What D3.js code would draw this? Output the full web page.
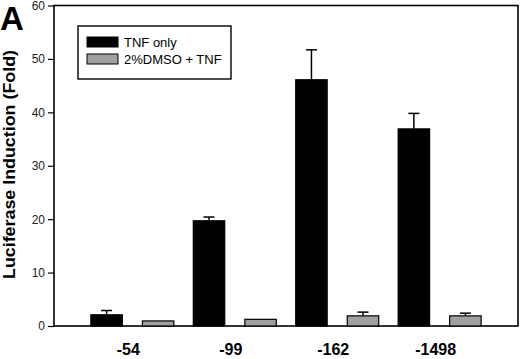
<!DOCTYPE html>
<html>
<head>
<meta charset="utf-8">
<script src="https://cdn.jsdelivr.net/npm/d3@7"></script>
<style>
  body { margin: 0; background: #fff; }
  svg { display: block; font-family: "Liberation Sans", Arial, sans-serif; }
</style>
</head>
<body>
<svg width="520" height="359"></svg>
<script>
var promoters = [ "-54", "-99", "-162", "-1498" ];
var seriesNames = [ "TNF only", "2%DMSO + TNF" ];
var seriesColors = [ "#000000", "#a0a0a0" ];
var tnfValues = [ 2.1, 19.7, 46.1, 36.9 ];
var tnfErrors = [ 0.8, 0.7, 5.6, 2.9 ];
var dmsoValues = [ 0.95, 1.25, 1.9, 1.9 ];
var dmsoErrors = [ 0, 0, 0.7, 0.5 ];
var yTicks = [ 0, 10, 20, 30, 40, 50, 60 ];

var svg = d3.select( "svg" );

var plotLeft = 54, plotRight = 518, plotTop = 5.5, plotBottom = 326;

var x0 = d3.scaleBand()
  .domain( promoters )
  .range( [ plotLeft, plotRight ] )
  .paddingInner( 0.19 )
  .paddingOuter( 0.36 );

var x1 = d3.scaleBand()
  .domain( seriesNames )
  .range( [ 0, x0.bandwidth() ] )
  .paddingInner( 0.39 );

var y = d3.scaleLinear()
  .domain( [ 0, 60 ] )
  .range( [ plotBottom, plotTop ] );

var rows = [];
promoters.forEach( ( p, i ) => {
  rows.push( { promoter: p, series: seriesNames[ 0 ], value: tnfValues[ i ], err: tnfErrors[ i ], color: seriesColors[ 0 ] } );
  rows.push( { promoter: p, series: seriesNames[ 1 ], value: dmsoValues[ i ], err: dmsoErrors[ i ], color: seriesColors[ 1 ] } );
} );

// frame
svg.append( "rect" )
  .attr( "x", plotLeft )
  .attr( "y", plotTop )
  .attr( "width", plotRight - plotLeft )
  .attr( "height", plotBottom - plotTop )
  .attr( "fill", "none" )
  .attr( "stroke", "#000" )
  .attr( "stroke-width", 1.6 );

// y axis
var yAxis = d3.axisLeft( y ).tickValues( yTicks ).tickSize( 6 ).tickPadding( 3 );
var gy = svg.append( "g" )
  .attr( "transform", "translate(" + plotLeft + ",0)" )
  .call( yAxis );
gy.select( ".domain" ).remove();
gy.selectAll( "line" ).attr( "stroke-width", 1.2 );
gy.selectAll( "text" )
  .style( "font-size", "12px" )
  .attr( "fill", "#222" );

// error bars
var errs = svg.selectAll( "g.err" )
  .data( rows.filter( d => d.err > 0 ) )
  .enter().append( "g" )
    .attr( "class", "err" );

errs.append( "line" )
  .attr( "x1", d => x0( d.promoter ) + x1( d.series ) + x1.bandwidth() / 2 )
  .attr( "x2", d => x0( d.promoter ) + x1( d.series ) + x1.bandwidth() / 2 )
  .attr( "y1", d => y( d.value ) )
  .attr( "y2", d => y( d.value + d.err ) )
  .attr( "stroke", "#000" )
  .attr( "stroke-width", 1.5 );

errs.append( "line" )
  .attr( "x1", d => x0( d.promoter ) + x1( d.series ) + x1.bandwidth() / 2 - 5.5 )
  .attr( "x2", d => x0( d.promoter ) + x1( d.series ) + x1.bandwidth() / 2 + 5.5 )
  .attr( "y1", d => y( d.value + d.err ) )
  .attr( "y2", d => y( d.value + d.err ) )
  .attr( "stroke", "#000" )
  .attr( "stroke-width", 1.5 );

// bars
svg.selectAll( "rect.bar" )
  .data( rows )
  .enter().append( "rect" )
    .attr( "class", "bar" )
    .attr( "x", d => x0( d.promoter ) + x1( d.series ) )
    .attr( "y", d => y( d.value ) )
    .attr( "width", x1.bandwidth() )
    .attr( "height", d => y( 0 ) - y( d.value ) )
    .attr( "fill", d => d.color )
    .attr( "stroke", "#000" )
    .attr( "stroke-width", 1.2 );

// x labels
svg.selectAll( "text.xlab" )
  .data( promoters )
  .enter().append( "text" )
    .attr( "class", "xlab" )
    .attr( "x", d => x0( d ) + x0.bandwidth() / 2 - 4 )
    .attr( "y", 355 )
    .attr( "text-anchor", "middle" )
    .style( "font-size", "16px" )
    .style( "font-weight", "bold" )
    .text( d => d );

// y title (stretched along its length like the scanned figure)
svg.append( "text" )
  .attr( "transform", "translate(14.5,164.5) rotate(-90)" )
  .attr( "text-anchor", "middle" )
  .attr( "textLength", 229 )
  .attr( "lengthAdjust", "spacingAndGlyphs" )
  .style( "font-size", "16px" )
  .style( "font-weight", "bold" )
  .text( "Luciferase Induction (Fold)" );

// panel letter
svg.append( "text" )
  .attr( "x", 0 )
  .attr( "y", 30 )
  .style( "font-size", "33px" )
  .style( "font-weight", "bold" )
  .text( "A" );

// legend
var legend = svg.append( "g" ).attr( "transform", "translate(78,26)" );
legend.append( "rect" )
  .attr( "width", 153 )
  .attr( "height", 53 )
  .attr( "fill", "#fff" )
  .attr( "stroke", "#000" )
  .attr( "stroke-width", 1.4 );

var items = legend.selectAll( "g.item" )
  .data( seriesNames )
  .enter().append( "g" )
    .attr( "class", "item" )
    .attr( "transform", ( d, i ) => "translate(9," + ( 11 + i * 17 ) + ")" );

items.append( "rect" )
  .attr( "width", 31 )
  .attr( "height", 10 )
  .attr( "fill", ( d, i ) => seriesColors[ i ] )
  .attr( "stroke", "#000" )
  .attr( "stroke-width", 1 );

items.append( "text" )
  .attr( "x", 37 )
  .attr( "y", 10 )
  .style( "font-size", "13px" )
  .text( d => d );
</script>
</body>
</html>
